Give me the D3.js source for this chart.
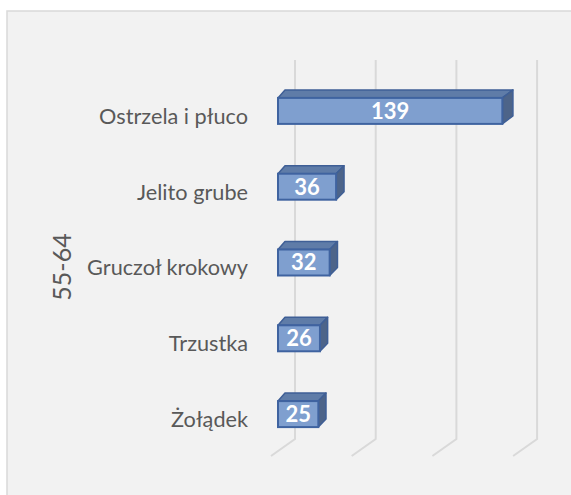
<!DOCTYPE html>
<html>
<head>
<meta charset="utf-8">
<script src="https://cdn.jsdelivr.net/npm/d3@7"></script>
<style>
  body { margin: 0; background: #ffffff; }
</style>
</head>
<body>
<div id="chart"></div>
<script>
// Chart data
const categories = ["Ostrzela i płuco", "Jelito grube", "Gruczoł krokowy", "Trzustka", "Żołądek"];
const values = [139, 36, 32, 26, 25];
const gridTicks = [0, 50, 100, 150];
const groupLabel = "55-64";

let width = 571;
let height = 495;

let svg = d3.select("#chart")
    .append("svg")
    .attr("width", width)
    .attr("height", height);

// Chart area background
svg.append("rect")
    .attr("x", 7)
    .attr("y", 11)
    .attr("width", width + 10)
    .attr("height", height + 10)
    .attr("fill", "#f2f2f2")
    .attr("stroke", "#d9d9d9")
    .attr("stroke-width", 1.5);

// Scales (front face of bars)
let xScale = d3.scaleLinear()
    .domain([0, 150])
    .range([278, 278 + 150 * 1.614]);

let yScale = d3.scaleBand()
    .domain(categories)
    .range([73, 452]);

let barH = 26;

// Floor depth for gridlines
let floorDx = 24, floorDy = 17;
let gridTop = 60, gridBottom = 439;

// Gridlines: vertical on the back wall, then slanted across the floor
svg.append("g")
    .selectAll("path")
    .data(gridTicks)
    .enter().append("path")
    .attr("fill", "none")
    .attr("stroke", "#d9d9d9")
    .attr("stroke-width", 2)
    .attr("d", function(d) {
        let xb = xScale(d) + 17;
        return `M${xb},${gridTop} L${xb},${gridBottom} L${xb - floorDx},${gridBottom + floorDy}`;
    });

// Depth offset of bar back face (slight perspective)
function depthDx(x) { return 7 + (x - xScale(0)) * 0.016; }
let depthDy = -8;

let bars = svg.append("g")
    .selectAll("g")
    .data(categories)
    .enter().append("g");

bars.each(function(c, i) {
    let g = d3.select(this);
    let x0 = xScale(0);
    let x1 = xScale(values[i]);
    let y0 = yScale(c) + yScale.bandwidth() / 2 - barH / 2;
    let y1 = y0 + barH;
    let d0 = depthDx(x0), d1 = depthDx(x1);

    // top face
    g.append("path")
        .attr("d", `M${x0},${y0} L${x0 + d0},${y0 + depthDy} L${x1 + d1},${y0 + depthDy} L${x1},${y0} Z`)
        .attr("fill", "#5f7ca8")
        .attr("stroke", "#3f5f96")
        .attr("stroke-width", 1.5)
        .attr("stroke-linejoin", "round");

    // side face
    g.append("path")
        .attr("d", `M${x1},${y0} L${x1 + d1},${y0 + depthDy} L${x1 + d1},${y1 + depthDy} L${x1},${y1} Z`)
        .attr("fill", "#4d6489")
        .attr("stroke", "#3f5f96")
        .attr("stroke-width", 1.5)
        .attr("stroke-linejoin", "round");

    // front face
    g.append("rect")
        .attr("x", x0)
        .attr("y", y0)
        .attr("width", x1 - x0)
        .attr("height", barH)
        .attr("fill", "#7f9fcf")
        .attr("stroke", "#3f63a0")
        .attr("stroke-width", 2);

    // value label
    g.append("text")
        .attr("x", (x0 + x1) / 2)
        .attr("y", (y0 + y1) / 2)
        .attr("dy", "0.36em")
        .attr("text-anchor", "middle")
        .attr("fill", "#ffffff")
        .attr("font-family", "Lato, 'Open Sans', sans-serif")
        .attr("font-weight", "bold")
        .attr("font-size", "22px")
        .text(values[i]);
});

// Category labels
svg.append("g")
    .selectAll("text")
    .data(categories)
    .enter().append("text")
    .attr("x", 248)
    .attr("y", function(d) { return yScale(d) + yScale.bandwidth() / 2 + 5; })
    .attr("dy", "0.36em")
    .attr("text-anchor", "end")
    .attr("fill", "#595959")
    .attr("font-family", "Lato, 'Open Sans', sans-serif")
    .attr("font-size", "21.7px")
    .text(function(d) { return d; });

// Group label, rotated
svg.append("text")
    .attr("transform", "translate(62,267) rotate(-90)")
    .attr("dy", "0.36em")
    .attr("text-anchor", "middle")
    .attr("fill", "#595959")
    .attr("font-family", "Lato, 'Open Sans', sans-serif")
    .attr("font-size", "25px")
    .text(groupLabel);
</script>
</body>
</html>
